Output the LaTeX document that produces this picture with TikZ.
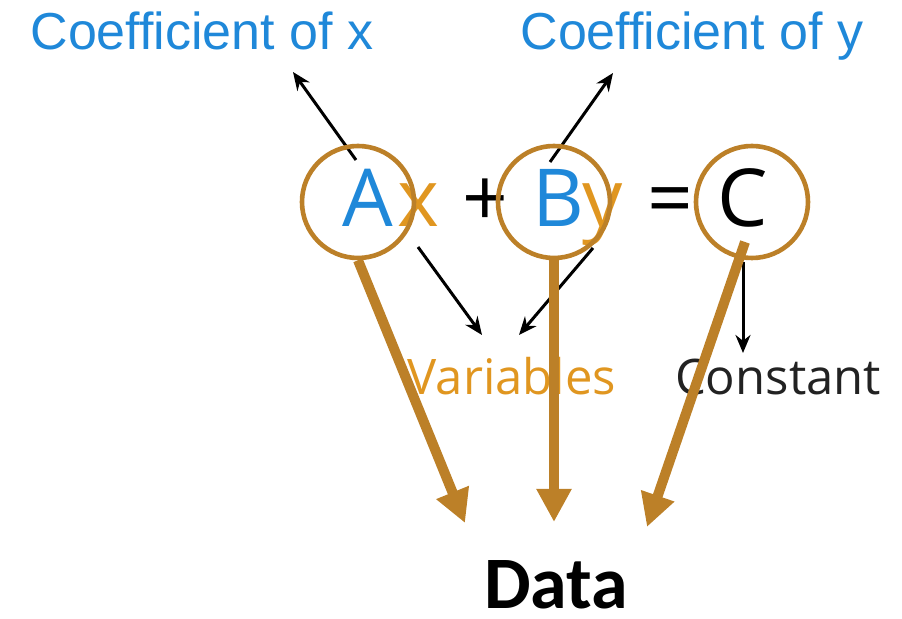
\documentclass[tikz,border=0pt]{standalone}
\usepackage{fontspec}
\setmainfont{Open Sans}
\newfontfamily\labelfont{Liberation Sans}
\newfontfamily\datafont{Carlito}
\usetikzlibrary{arrows.meta}

\definecolor{eqblue}{RGB}{31,136,217}
\definecolor{eqorange}{RGB}{224,150,32}
\definecolor{ringgold}{RGB}{188,128,40}
\definecolor{darktext}{RGB}{34,34,34}

\begin{document}
\begin{tikzpicture}[x=0.5pt, y=-0.5pt, > = {Stealth[length=9pt,width=7.5pt]}]
    \tikzset{
      sym/.style={anchor=base, inner sep=0pt, font=\fontsize{40}{40}\selectfont},
      ring/.style={draw=ringgold, line width=2.3pt, circle, minimum size=56pt, inner sep=0pt},
      note/.style={anchor=base, inner sep=0pt, font=\fontsize{24.5}{28}\selectfont},
      coef/.style={anchor=base, inner sep=0pt, text=eqblue, font=\labelfont\fontsize{26}{30}\selectfont},
      pointer/.style={->, line width=1.5pt},
      feed/.style={-{Triangle[length=16.5pt,width=16.5pt]}, draw=ringgold, line width=5pt},
    }
    \useasboundingbox (0,0) rectangle (902,619);

    % the equation, one glyph per node
    \node [sym, text=eqblue] (A) at (368,227) {A};
    \node [sym, text=eqorange] (x) at (418,227) {x};
    \node [sym] (plus) at (485,227) {+};
    \node [sym, text=eqblue] (B) at (558,227) {B};
    \node [sym, text=eqorange] (y) at (603,227) {y};
    \node [sym] (eq) at (670,227) {=};
    \node [sym] (C) at (743,227) {C};

    % labels
    \node [coef] (coefx) at (202,50) {Coefficient of x};
    \node [coef] (coefy) at (692,50) {Coefficient of y};
    \node [note, text=eqorange] (vars) at (512,395) {Variables};
    \node [note, text=darktext] (const) at (778,395) {Constant};
    \node [anchor=base, inner sep=0pt, font=\datafont\bfseries\fontsize{37}{40}\selectfont] (data) at (556,609) {Data};

    % ends of the thin pointers
    \coordinate (ax) at (356,160);
    \coordinate (ax1) at (293,72);
    \coordinate (by) at (550,162);
    \coordinate (by1) at (613,73);
    \coordinate (xv) at (418,247);
    \coordinate (xv1) at (482,335);
    \coordinate (yv) at (593,248);
    \coordinate (yv1) at (519,335);
    \coordinate (cc) at (743,262);
    \coordinate (cc1) at (743,353);

    \draw [pointer] (ax) -- (ax1);
    \draw [pointer] (by) -- (by1);
    \draw [pointer] (xv) -- (xv1);
    \draw [pointer] (yv) -- (yv1);
    \draw [pointer] (cc) -- (cc1);

    \node [ring] (ringA) at (358,202) {};
    \node [ring] (ringB) at (554,202) {};
    \node [ring] (ringC) at (752,202) {};

    % thick arrows down to Data
    \coordinate (cstart) at (745,242);
    \coordinate (dA) at (465,523);
    \coordinate (dB) at (554,522);
    \coordinate (dC) at (647,527);
    \draw [feed] (ringA.south) -- (dA);
    \draw [feed] (ringB.south) -- (dB);
    \draw [feed] (cstart) -- (dC);

\end{tikzpicture}
\end{document}
